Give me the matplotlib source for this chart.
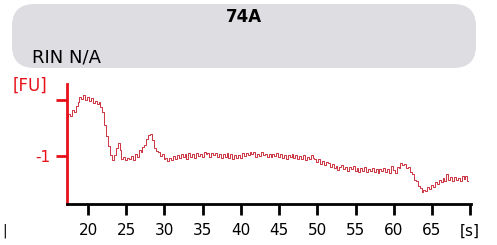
import numpy as np
import matplotlib.pyplot as plt
from matplotlib.patches import FancyBboxPatch

title = '74A'
rin_text = 'RIN N/A'

# time axis [s], sampled every 0.25 s from 17.25
t_start = 17.25
t_step = 0.25
fu = [
    -0.32, -0.25, -0.28, -0.18, -0.22, -0.10, -0.03, 0.05, 0.02, 0.09, 0.00, 0.06,
    -0.02, 0.03, -0.06, -0.01, -0.08, -0.04, -0.12, -0.22, -0.45, -0.65, -0.82, -0.98,
    -1.08, -0.98, -0.85, -0.77, -0.90, -1.06, -1.02, -1.07, -1.03, -1.06, -1.00, -1.07,
    -0.97, -1.01, -0.89, -0.93, -0.84, -0.80, -0.70, -0.62, -0.60, -0.72, -0.85, -0.91,
    -0.93, -1.00, -0.97, -1.06, -1.03, -1.09, -1.04, -1.08, -1.00, -1.05, -0.98, -1.04,
    -0.96, -1.02, -0.97, -1.05, -0.95, -1.01, -0.97, -1.03, -0.94, -1.00, -0.96, -1.02,
    -0.93, -0.97, -0.95, -1.01, -0.94, -0.98, -0.94, -1.01, -0.96, -1.04, -0.97, -1.02,
    -0.95, -1.03, -0.97, -1.06, -0.99, -1.04, -0.98, -1.03, -0.95, -1.00, -0.94, -0.99,
    -0.92, -0.97, -0.93, -1.01, -0.96, -1.00, -0.92, -0.98, -0.96, -1.01, -0.97, -1.02,
    -0.96, -1.00, -0.95, -1.02, -0.97, -1.04, -0.99, -1.05, -0.98, -1.02, -0.96, -1.04,
    -0.98, -1.06, -1.00, -1.05, -0.99, -1.07, -1.02, -1.06, -0.98, -1.04, -1.05, -1.10,
    -1.06, -1.14, -1.09, -1.16, -1.10, -1.13, -1.20, -1.14, -1.22, -1.18, -1.25, -1.20,
    -1.16, -1.23, -1.19, -1.26, -1.20, -1.24, -1.18, -1.27, -1.21, -1.28, -1.22, -1.26,
    -1.20, -1.28, -1.23, -1.27, -1.22, -1.29, -1.24, -1.30, -1.23, -1.27, -1.21, -1.28,
    -1.24, -1.31, -1.18, -1.25, -1.30, -1.20, -1.22, -1.12, -1.16, -1.14, -1.22, -1.20,
    -1.29, -1.33, -1.42, -1.45, -1.54, -1.58, -1.65, -1.60, -1.63, -1.55, -1.59, -1.51,
    -1.55, -1.46, -1.50, -1.42, -1.47, -1.40, -1.45, -1.33, -1.42, -1.38, -1.44, -1.37,
    -1.43, -1.39, -1.45, -1.36, -1.41, -1.35, -1.44,
]
t = t_start + t_step * np.arange(len(fu))

x_ticks = [20, 25, 30, 35, 40, 45, 50, 55, 60, 65, 70]
x_labels = ['20', '25', '30', '35', '40', '45', '50', '55', '60', '65', '[s]']
y_ticks = [-1, 0]
y_labels = ['-1', '']

red = '#e8101a'
trace = '#cc3340'

fig = plt.figure(figsize=(4.97, 2.45), dpi=100)

# grey header box
box = FancyBboxPatch((12 / 497, 1 - 68 / 245), 464 / 497, 64 / 245,
                     boxstyle='round,pad=0,rounding_size=0.045',
                     transform=fig.transFigure, facecolor='#dedde2',
                     edgecolor='none', mutation_aspect=2.0)
fig.patches.append(box)
fig.text(244 / 497, 1 - 17 / 245, title, ha='center', va='center',
         fontsize=12, fontweight='bold')
fig.text(32 / 497, 1 - 57 / 245, rin_text, ha='left', va='center', fontsize=13)
fig.text(13 / 497, 1 - 86 / 245, '[FU]', ha='left', va='center', fontsize=12,
         color=red)
fig.text(5 / 497, 1 - 231 / 245, '|', ha='center', va='center', fontsize=10)

ax = fig.add_axes([67 / 497, 1 - 204 / 245, 404 / 497, 120 / 245])
ax.plot(t, fu, color=trace, lw=0.7, drawstyle='steps-mid')

ax.set_xlim(17.25, 70.1)
ax.set_ylim(-1.857, 0.286)
ax.set_xticks(x_ticks)
ax.set_xticklabels(x_labels)
ax.set_yticks(y_ticks)
ax.set_yticklabels(y_labels)

for s in ['top', 'right']:
    ax.spines[s].set_visible(False)
ax.spines['left'].set_color(red)
ax.spines['left'].set_linewidth(2)
ax.spines['bottom'].set_color('black')
ax.spines['bottom'].set_linewidth(2)

ax.tick_params(axis='x', length=8, width=2, labelsize=11, pad=6)
ax.tick_params(axis='y', length=8, width=2, color=red, labelcolor=red,
               labelsize=11, pad=4)

fig.savefig('out.png', dpi=100)
